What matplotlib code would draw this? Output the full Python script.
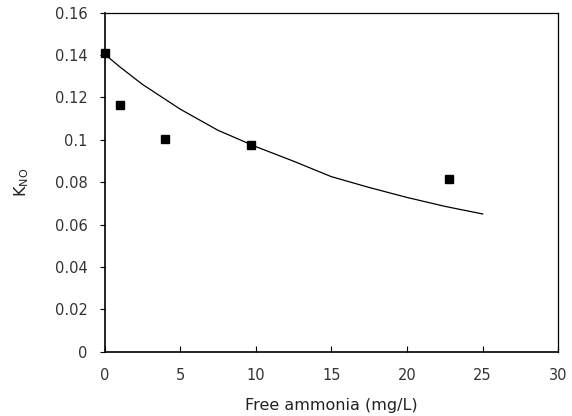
import matplotlib
matplotlib.use('Agg')
from matplotlib import pyplot as plt

# measured points
fa_obs = [0, 1.0, 4.0, 9.7, 22.8]
kno_obs = [0.141, 0.1164, 0.1002, 0.0976, 0.0815]

# model curve
fa_fit = [0, 1, 2.5, 5, 7.5, 10, 12.5, 15, 17.5, 20, 22.5, 25]
kno_fit = [0.1405, 0.1345, 0.1262, 0.1145, 0.1045, 0.0968, 0.0899, 0.0826,
           0.0775, 0.0728, 0.0686, 0.0650]

x_ticks = [0, 5, 10, 15, 20, 25, 30]
y_ticks = [0, 0.02, 0.04, 0.06, 0.08, 0.1, 0.12, 0.14, 0.16]
y_labels = ['0', '0.02', '0.04', '0.06', '0.08', '0.1', '0.12', '0.14', '0.16']

plt.rcParams['font.family'] = ['DejaVu Sans']
plt.rcParams['mathtext.default'] = 'regular'

fig = plt.figure(figsize=(5.72, 4.16), dpi=100)
ax = fig.add_axes([0.1827, 0.1546, 0.976 - 0.1827, 0.9695 - 0.1546])

ax.plot(fa_fit, kno_fit, color='black', linewidth=0.9)
ax.plot(fa_obs, kno_obs, linestyle='none', marker='s', markersize=6.2,
        color='black', clip_on=False)

ax.set_xlim(0, 30)
ax.set_ylim(0, 0.16)
ax.set_xticks(x_ticks)
ax.set_yticks(y_ticks)
ax.set_yticklabels(y_labels)

ax.tick_params(axis='x', direction='in', length=4, width=0.8, pad=12,
               labelsize=10.5, labelcolor='#333333')
ax.tick_params(axis='y', direction='out', length=3.5, width=0.8, pad=8.5,
               labelsize=10.5, labelcolor='#333333')
for side in ['left', 'bottom']:
    ax.spines[side].set_linewidth(1.2)
for side in ['top', 'right']:
    ax.spines[side].set_linewidth(0.9)

ax.set_xlabel('Free ammonia (mg/L)', fontsize=11.5, color='#222222')
ax.xaxis.set_label_coords(0.5, -0.136)
ax.set_ylabel(r'K$_{NO}$', fontsize=11.5, color='#222222')
ax.yaxis.set_label_coords(-0.162, 0.5)

fig.savefig('out.png', dpi=100)
